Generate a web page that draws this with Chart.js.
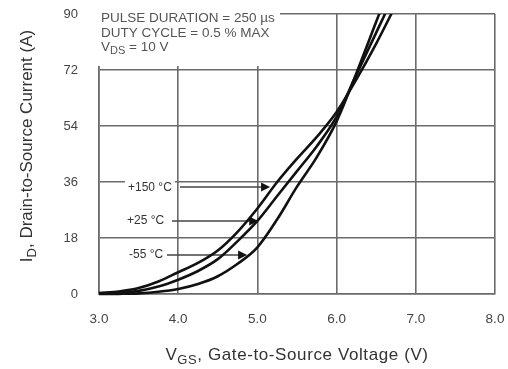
<!DOCTYPE html>
<html><head><meta charset="utf-8">
<script src="https://cdn.jsdelivr.net/npm/chart.js@4"></script>
<style>html,body{margin:0;padding:0;background:#fff;}canvas{display:block;}</style>
</head><body>
<canvas id="c" width="508" height="369"></canvas>
<script>
// ---- data ----
const voltage    = [3.0, 3.25, 3.5, 3.75, 4.0, 4.25, 4.5, 4.75, 5.0, 5.25, 5.5, 5.75, 6.0, 6.25, 6.5, 6.75];
const current150 = [0.3, 0.8, 1.9, 4.0, 7.0, 10.0, 14.0, 20.0, 27.5, 36.0, 43.5, 50.5, 58.5, 69.0, 80.5, 93.0];
const current25  = [0.1, 0.3, 1.0, 2.4, 4.6, 7.4, 11.2, 17.0, 23.5, 31.5, 39.5, 47.5, 57.0, 70.5, 84.0, 97.5];
const currentM55 = [0.0, 0.05, 0.2, 0.7, 1.6, 3.2, 5.7, 9.7, 15.0, 24.0, 34.5, 44.0, 55.5, 71.0, 87.5, 104.0];
const seriesNames = ['+150 °C', '+25 °C', '-55 °C'];
const xTickValues = [3, 4, 5, 6, 7, 8];
const yTickValues = [0, 18, 36, 54, 72, 90];
const noteLines = ['PULSE DURATION = 250 µs', 'DUTY CYCLE = 0.5 % MAX'];

const FONT = '"Liberation Sans", Arial, sans-serif';
const GRID = '#6b6b6b';
const INK = '#111';

function pts(ys) { return voltage.map((v, i) => ({x: v, y: ys[i]})); }

function drawRich(ctx, parts, x, y, size, align, spacing) {
  const subSize = Math.round(size * 0.78);
  ctx.letterSpacing = (spacing || 0) + 'px';
  let w = 0;
  parts.forEach(p => { ctx.font = (p.sub ? subSize : size) + 'px ' + FONT; p.w = ctx.measureText(p.t).width; w += p.w; });
  let cx = align === 'center' ? x - w / 2 : x;
  ctx.textBaseline = 'middle';
  ctx.textAlign = 'left';
  parts.forEach(p => {
    ctx.font = (p.sub ? subSize : size) + 'px ' + FONT;
    ctx.fillText(p.t, cx, p.sub ? y + size * 0.32 : y);
    cx += p.w;
  });
  ctx.letterSpacing = '0px';
}

const decor = {
  id: 'decor',
  beforeDatasetsDraw(chart) {
    const ctx = chart.ctx, xs = chart.scales.x, ys = chart.scales.y, a = chart.chartArea;
    ctx.save();
    // white note box covering the grid in the upper-left corner
    ctx.fillStyle = '#fff';
    ctx.fillRect(a.left - 2, a.top - 2, 280 - a.left + 2, 66 - a.top + 2);
    ctx.fillStyle = '#555';
    ctx.font = '13.5px ' + FONT;
    ctx.textBaseline = 'middle';
    ctx.fillText(noteLines[0], a.left + 2, a.top + 4);
    ctx.fillText(noteLines[1], a.left + 2, a.top + 19);
    drawRich(ctx, [{t: 'V'}, {t: 'DS', sub: true}, {t: ' = 10 V'}], a.left + 2, a.top + 33, 13.5, 'left');

    // curve labels with leader arrows (tip positions in data units)
    const labels = [
      {name: seriesNames[0], lx: 128, ly: 188, start: 180, tipV: 5.16, tipI: 34.4},
      {name: seriesNames[1], lx: 127, ly: 221, start: 172, tipV: 5.01, tipI: 23.5},
      {name: seriesNames[2], lx: 129, ly: 255, start: 167, tipV: 4.87, tipI: 12.5}
    ];
    labels.forEach(L => {
      ctx.font = '12px ' + FONT;
      const w = ctx.measureText(L.name).width;
      ctx.fillStyle = '#fff';
      ctx.fillRect(L.lx - 3, L.ly - 8, w + 6, 16);
      ctx.fillStyle = '#333';
      ctx.textBaseline = 'middle';
      ctx.fillText(L.name, L.lx, L.ly);
      const tx = xs.getPixelForValue(L.tipV), ty = ys.getPixelForValue(L.tipI);
      ctx.strokeStyle = '#444';
      ctx.lineWidth = 1.5;
      ctx.beginPath();
      ctx.moveTo(L.start, ty);
      ctx.lineTo(tx - 6, ty);
      ctx.stroke();
      ctx.fillStyle = INK;
      ctx.beginPath();
      ctx.moveTo(tx, ty);
      ctx.lineTo(tx - 9, ty - 4.5);
      ctx.lineTo(tx - 9, ty + 4.5);
      ctx.closePath();
      ctx.fill();
    });
    ctx.restore();
  },
  afterDraw(chart) {
    const ctx = chart.ctx, a = chart.chartArea;
    ctx.save();
    ctx.fillStyle = '#333';
    drawRich(ctx, [{t: 'V'}, {t: 'GS', sub: true}, {t: ', Gate-to-Source Voltage (V)'}], (a.left + a.right) / 2, 355, 17, 'center', 0.6);
    ctx.translate(27, 146);
    ctx.rotate(-Math.PI / 2);
    drawRich(ctx, [{t: 'I'}, {t: 'D', sub: true}, {t: ', Drain-to-Source Current (A)'}], 0, 0, 17, 'center', 0);
    ctx.restore();
  }
};

new Chart(document.getElementById('c'), {
  type: 'line',
  data: {
    datasets: [
      {label: seriesNames[0], data: pts(current150)},
      {label: seriesNames[1], data: pts(current25)},
      {label: seriesNames[2], data: pts(currentM55)}
    ].map(d => Object.assign(d, {
      borderColor: INK, borderWidth: 2.6, pointRadius: 0, fill: false,
      cubicInterpolationMode: 'monotone', clip: {left: 3, right: 3, top: 0, bottom: 3}
    }))
  },
  options: {
    responsive: false,
    devicePixelRatio: 1,
    animation: false,
    events: [],
    layout: {padding: {left: 0, right: 13, top: 14, bottom: 0}},
    plugins: {legend: {display: false}, tooltip: {enabled: false}},
    scales: {
      x: {
        type: 'linear', min: 3, max: 8,
        afterBuildTicks: s => { s.ticks = xTickValues.map(v => ({value: v})); },
        afterFit: s => { s.height = 75; s.paddingLeft = 0; s.paddingRight = 0; },
        grid: {color: GRID, lineWidth: 1.6, drawTicks: false},
        border: {color: GRID, width: 1.6},
        ticks: {padding: 17, color: '#444', font: {family: FONT, size: 13.5}, callback: v => Number(v).toFixed(1)}
      },
      y: {
        type: 'linear', min: 0, max: 90,
        afterBuildTicks: s => { s.ticks = yTickValues.map(v => ({value: v})); },
        afterFit: s => { s.width = 99; s.paddingTop = 0; s.paddingBottom = 0; },
        grid: {color: GRID, lineWidth: 1.6, drawTicks: false},
        border: {color: GRID, width: 1.6},
        ticks: {padding: 21, color: '#444', font: {family: FONT, size: 13}}
      }
    }
  },
  plugins: [decor]
});
</script>
</body></html>
